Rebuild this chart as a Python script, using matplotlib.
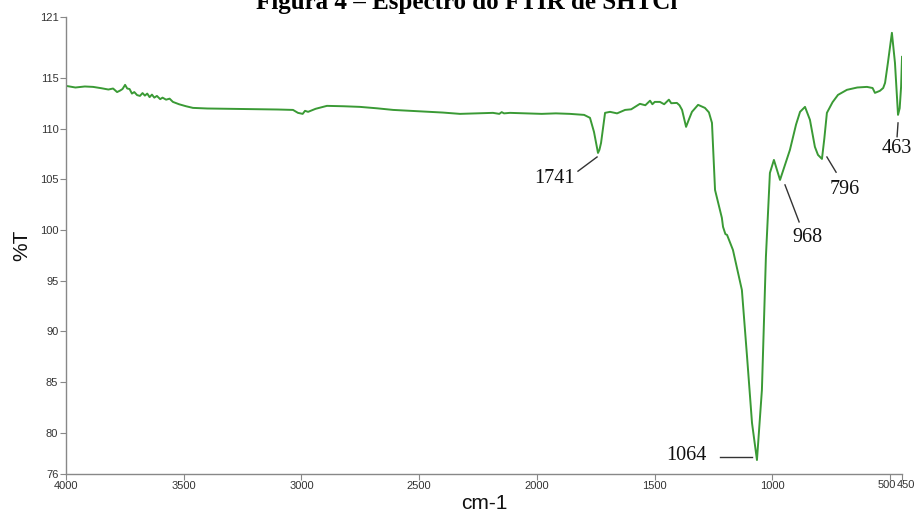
import matplotlib
matplotlib.use("Agg")
import matplotlib.pyplot as plt
from matplotlib import font_manager

# spectrum (wavenumber cm-1, %T)
wn = [4000, 3960, 3920, 3885, 3850, 3820, 3800, 3783, 3770, 3760, 3749, 3740, 3730,
      3720, 3710, 3698, 3686, 3675, 3665, 3655, 3645, 3635, 3625, 3614, 3600, 3590,
      3575, 3560, 3546, 3520, 3490, 3461, 3400, 3300, 3200, 3100, 3036, 3015, 2995,
      2985, 2972, 2940, 2892, 2820, 2752, 2680, 2611, 2500, 2400, 2327, 2250, 2187,
      2160, 2150, 2140, 2115, 2050, 1980, 1920, 1860, 1800, 1775, 1758, 1741, 1735,
      1728, 1711, 1690, 1660, 1626, 1600, 1563, 1540, 1520, 1510, 1500, 1478, 1460,
      1440, 1430, 1406, 1395, 1384, 1367, 1355, 1342, 1316, 1287, 1270, 1257, 1244,
      1223, 1215, 1210, 1200, 1193, 1168, 1130, 1108, 1087, 1066, 1045, 1028, 1011,
      994, 968, 950, 926, 900, 883, 862, 841, 820, 807, 790, 780, 769, 745, 722, 684,
      640, 599, 575, 565, 544, 530, 522, 510, 493, 480, 467, 460, 454, 450]
tr = [114.21, 114.05, 114.15, 114.11, 113.98, 113.85, 113.95, 113.6, 113.75, 113.9,
      114.31, 113.95, 113.9, 113.45, 113.6, 113.3, 113.22, 113.5, 113.25, 113.45,
      113.1, 113.35, 113.05, 113.22, 112.9, 113.05, 112.85, 112.95, 112.63, 112.4,
      112.2, 112.04, 111.98, 111.95, 111.92, 111.88, 111.84, 111.55, 111.45, 111.75,
      111.65, 111.95, 112.24, 112.2, 112.14, 112.0, 111.84, 111.7, 111.58, 111.45,
      111.5, 111.55, 111.45, 111.62, 111.5, 111.55, 111.5, 111.45, 111.5, 111.45,
      111.35, 111.06, 109.67, 107.6, 107.9, 108.59, 111.55, 111.65, 111.5, 111.84,
      111.9, 112.44, 112.3, 112.75, 112.4, 112.63, 112.63, 112.4, 112.85, 112.5,
      112.53, 112.3, 111.84, 110.17, 110.9, 111.65, 112.34, 112.04, 111.6, 110.56,
      103.95, 101.98, 101.2, 100.31, 99.6, 99.52, 98.04, 94.09, 87.49, 80.98, 77.33,
      84.23, 97.35, 105.63, 106.91, 104.94, 106.2, 107.9, 110.4, 111.65, 112.14,
      110.86, 108.2, 107.41, 107.01, 109.0, 111.55, 112.6, 113.32, 113.82, 114.05,
      114.11, 114.0, 113.52, 113.72, 114.0, 114.51, 116.48, 119.44, 116.48, 111.35,
      112.0, 114.11, 117.07]

# peak labels: text, label position, leader line ends
peak_txt = ["1741", "1064", "968", "796", "463"]
peak_pos = [(1924, 105.1), (1367, 77.8), (853, 99.3), (692, 104.0), (471, 108.0)]
peak_ln = [((1745, 107.2), (1826, 105.8)),
           ((1087, 77.6), (1223, 77.6)),
           ((947, 104.45), (887, 100.8)),
           ((769, 107.2), (730, 105.7)),
           ((467, 110.56), (471, 109.2))]

xticks = [4000, 3500, 3000, 2500, 2000, 1500, 1000, 500, 450]
yticks = [76, 80, 85, 90, 95, 100, 105, 110, 115, 121]

names = {f.name for f in font_manager.fontManager.ttflist}
tick_font = "Liberation Sans Narrow" if "Liberation Sans Narrow" in names else "Liberation Sans"

fig = plt.figure(figsize=(9.14, 5.18), dpi=100)
ax = fig.add_axes([0.0722, 0.0859, 0.9147, 0.8813])

ax.plot(wn, tr, color="#3a9a35", lw=1.4)
ax.set_xlim(4000, 450)
ax.set_ylim(76, 121)

for t, p, ln in zip(peak_txt, peak_pos, peak_ln):
    ax.plot([ln[0][0], ln[1][0]], [ln[0][1], ln[1][1]], color="#333333", lw=1.0)
    ax.text(p[0], p[1], t, family="Liberation Serif", fontsize=14.5,
            ha="center", va="center", color="#111111")

# the last two labels sit side by side ("500450"), drawn apart from the rest
ax.set_xticks(xticks)
ax.set_xticklabels([str(v) if v > 500 else "" for v in xticks])
for v, dx in [(500, -2.6), (450, 2.6)]:
    ax.annotate(str(v), xy=(v, 0), xycoords=("data", "axes fraction"),
                xytext=(dx, -4.4), textcoords="offset points", ha="center", va="top",
                family=tick_font, fontsize=8, color="#333333")
ax.set_yticks(yticks)
ax.set_yticklabels([str(v) for v in yticks])
for lab in ax.get_xticklabels() + ax.get_yticklabels():
    lab.set_family(tick_font)
    lab.set_fontsize(8)
    lab.set_color("#333333")
ax.tick_params(axis="both", color="#888888", length=4, width=0.8, pad=1.5)

for s in ["top", "right"]:
    ax.spines[s].set_visible(False)
for s in ["left", "bottom"]:
    ax.spines[s].set_color("#888888")
    ax.spines[s].set_linewidth(1.0)

ax.set_xlabel("cm-1", family="Liberation Sans", fontsize=15, color="#111111", labelpad=2)
ax.set_ylabel("%T", family="Liberation Sans", fontsize=15, color="#111111", labelpad=6)

# caption cut at the top edge, as in the source
fig.text(0.511, 1 - 9 / 518, "Figura 4 – Espectro do FTIR de SHTCl", family="Liberation Serif",
         fontsize=18, fontweight="bold", ha="center", va="baseline")

fig.savefig("out.png", dpi=100)
